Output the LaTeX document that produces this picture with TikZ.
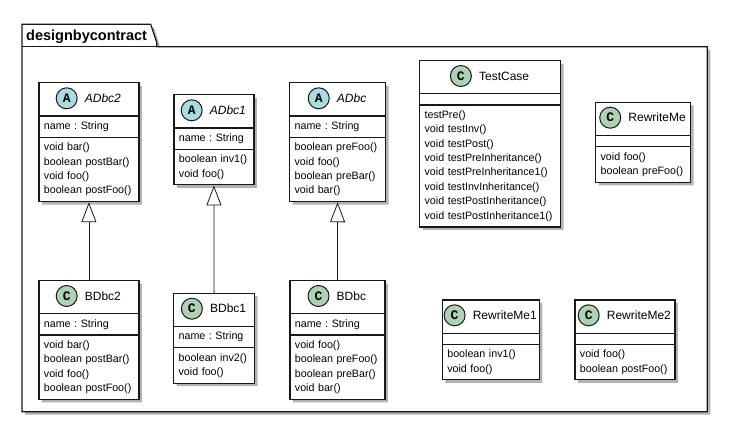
\documentclass[tikz,border=0pt]{standalone}
\usepackage{fontspec}
\setmainfont{Liberation Sans}
\newfontfamily\stereofont{Liberation Mono}
\usetikzlibrary{positioning,shapes.multipart,shadows,arrows.meta}
\definecolor{abstractfill}{HTML}{A9DCDF}
\definecolor{classfill}{HTML}{ADD1B2}
\definecolor{umlline}{HTML}{181818}
\frenchspacing
\tikzset{
	umlshadow/.style={drop shadow={shadow xshift=3pt, shadow yshift=-3pt, fill=black, opacity=0.3}},
	umlclass/.style={rectangle split, rectangle split parts=3, rectangle split empty part height=0pt, rectangle split empty part depth=-2pt, draw=umlline, line width=1.2pt, fill=white, umlshadow, anchor=north west, inner xsep=5pt, inner ysep=5pt, align=left, font=\fontsize{10.7}{14.4}\selectfont},
	umlname/.style={inner sep=0pt, font=\fontsize{12}{14}\selectfont},
	abstractname/.style={umlname, font=\fontsize{12}{14}\selectfont\itshape},
	circA/.style={circle, draw=umlline, line width=1pt, fill=abstractfill, minimum size=21pt, inner sep=0pt, font=\stereofont\bfseries\fontsize{13}{13}\selectfont},
	circC/.style={circA, fill=classfill},
	generalization/.style={draw=umlline, line width=0.8pt, -{Triangle[open, length=20pt, width=15pt, fill=white]}},
}

\begin{document}
\begin{tikzpicture}[x=1pt, y=-1pt]
	%%%%% START %%%%%
	\useasboundingbox (0, 0) rectangle (741, 438);
	
	\draw[line width=1.2pt, draw=umlline, fill=white, umlshadow] (22, 24.3) -- (150.7, 24.3) -- (156.7, 42.3) -- (156.7, 46.7) -- (707.3, 46.7) -- (707.3, 411.7) -- (22, 411.7) -- cycle;
	\draw[line width=1.2pt, draw=umlline] (22, 46.7) -- (156.7, 46.7);
	\node[anchor=base west, inner sep=0pt, font=\bfseries\fontsize{14.5}{16}\selectfont] (pkgname) at (26, 41) {designbycontract};
	
	\node[umlclass, text width=90pt] (adbctwo) at (38.3, 82.3) {\rule{0pt}{22pt}\nodepart{two}name : String\nodepart{three}void bar()\\boolean postBar()\\void foo()\\boolean postFoo()};
	\node[abstractname] (adbctwoname) at ([xshift=14pt, yshift=-16pt]adbctwo.north) {ADbc2};
	\node[circA, left=7pt of adbctwoname] (adbctwoicon) {A};
	
	\node[umlclass, text width=70pt] (adbcone) at (173.3, 94.3) {\rule{0pt}{22pt}\nodepart{two}name : String\nodepart{three}boolean inv1()\\void foo()};
	\node[abstractname] (adbconename) at ([xshift=14pt, yshift=-16pt]adbcone.north) {ADbc1};
	\node[circA, left=7pt of adbconename] (adbconeicon) {A};
	
	\node[umlclass, text width=86pt] (adbc) at (289, 82.3) {\rule{0pt}{22pt}\nodepart{two}name : String\nodepart{three}boolean preFoo()\\void foo()\\boolean preBar()\\void bar()};
	\node[abstractname] (adbcname) at ([xshift=14pt, yshift=-16pt]adbc.north) {ADbc};
	\node[circA, left=7pt of adbcname] (adbcicon) {A};
	
	\node[umlclass, text width=131pt] (testcase) at (419, 60) {\rule{0pt}{22pt}\nodepart{two}\nodepart{three}testPre()\\void testInv()\\void testPost()\\void testPreInheritance()\\void testPreInheritance1()\\void testInvInheritance()\\void testPostInheritance()\\void testPostInheritance1()};
	\node[umlname] (testcasename) at ([xshift=14pt, yshift=-16pt]testcase.north) {TestCase};
	\node[circC, left=7pt of testcasename] (testcaseicon) {C};
	
	\node[umlclass, text width=85pt] (rewriteme) at (595, 101.7) {\rule{0pt}{22pt}\nodepart{two}\nodepart{three}void foo()\\boolean preFoo()};
	\node[umlname] (rewritemename) at ([xshift=14pt, yshift=-16pt]rewriteme.north) {RewriteMe};
	\node[circC, left=7pt of rewritemename] (rewritemeicon) {C};
	
	\node[umlclass, text width=90pt] (bdbctwo) at (38.3, 280) {\rule{0pt}{22pt}\nodepart{two}name : String\nodepart{three}void bar()\\boolean postBar()\\void foo()\\boolean postFoo()};
	\node[umlname] (bdbctwoname) at ([xshift=14pt, yshift=-16pt]bdbctwo.north) {BDbc2};
	\node[circC, left=7pt of bdbctwoname] (bdbctwoicon) {C};
	
	\node[umlclass, text width=71pt] (bdbcone) at (173, 292.7) {\rule{0pt}{22pt}\nodepart{two}name : String\nodepart{three}boolean inv2()\\void foo()};
	\node[umlname] (bdbconename) at ([xshift=14pt, yshift=-16pt]bdbcone.north) {BDbc1};
	\node[circC, left=7pt of bdbconename] (bdbconeicon) {C};
	
	\node[umlclass, text width=85pt] (bdbc) at (289.3, 280) {\rule{0pt}{22pt}\nodepart{two}name : String\nodepart{three}void foo()\\boolean preFoo()\\boolean preBar()\\void bar()};
	\node[umlname] (bdbcname) at ([xshift=14pt, yshift=-16pt]bdbc.north) {BDbc};
	\node[circC, left=7pt of bdbcname] (bdbcicon) {C};
	
	\node[umlclass, text width=87pt] (rewritemeone) at (441.7, 299.3) {\rule{0pt}{22pt}\nodepart{two}\nodepart{three}boolean inv1()\\void foo()};
	\node[umlname] (rewritemeonename) at ([xshift=14pt, yshift=-16pt]rewritemeone.north) {RewriteMe1};
	\node[circC, left=7pt of rewritemeonename] (rewritemeoneicon) {C};
	
	\node[umlclass, text width=90pt] (rewritemetwo) at (574.3, 299.3) {\rule{0pt}{22pt}\nodepart{two}\nodepart{three}void foo()\\boolean postFoo()};
	\node[umlname] (rewritemetwoname) at ([xshift=14pt, yshift=-16pt]rewritemetwo.north) {RewriteMe2};
	\node[circC, left=7pt of rewritemetwoname] (rewritemetwoicon) {C};
	
	\draw[generalization] (bdbctwo.north) -- (adbctwo.south);
	\draw[generalization] (bdbcone.north) -- (adbcone.south);
	\draw[generalization] (bdbc.north) -- (adbc.south);
	
	%%%%% END %%%%%
\end{tikzpicture}
\end{document}
